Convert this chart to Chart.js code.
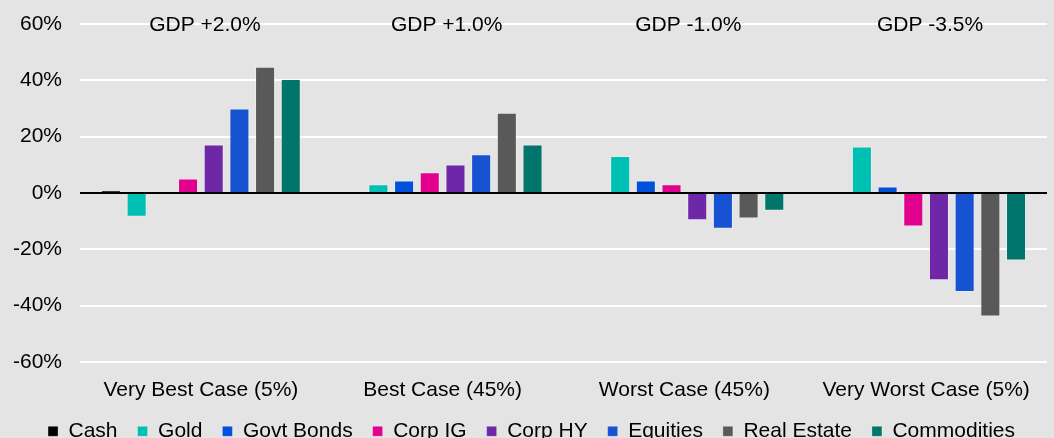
<!DOCTYPE html>
<html>
<head>
<meta charset="utf-8">
<script src="https://cdn.jsdelivr.net/npm/chart.js"></script>
<style>
  html, body { margin: 0; padding: 0; background: #e4e4e4; overflow: hidden; }
  #wrap { position: relative; width: 1054px; height: 470px; }
</style>
</head>
<body>
<div id="wrap"><canvas id="scenarioChart"></canvas></div>
<script>
const categories = ["Very Best Case (5%)", "Best Case (45%)", "Worst Case (45%)", "Very Worst Case (5%)"];
const gdpLabels = ["GDP +2.0%", "GDP +1.0%", "GDP -1.0%", "GDP -3.5%"];
const yTicks = [-60, -40, -20, 0, 20, 40, 60];

const cash = [0.8, 0.3, 0.3, 0.3];
const gold = [-8.5, 3.1, 13.1, 16.5];
const govtBonds = [-0.5, 4.4, 4.4, 2.3];
const corpIG = [5.1, 7.3, 3.1, -11.9];
const corpHY = [17.2, 10.1, -9.7, -31];
const equities = [30, 13.7, -12.7, -35.2];
const realEstate = [44.8, 28.5, -9.1, -43.9];
const commodities = [40.5, 17.2, -6.3, -24];

const FONT = "'Liberation Sans', Arial, sans-serif";
const FS = 21;

const series = [
  { label: "Cash", data: cash, color: "#000000" },
  { label: "Gold", data: gold, color: "#00c0b4" },
  { label: "Govt Bonds", data: govtBonds, color: "#0050dc" },
  { label: "Corp IG", data: corpIG, color: "#e2008f" },
  { label: "Corp HY", data: corpHY, color: "#6e27a6" },
  { label: "Equities", data: equities, color: "#1752d2" },
  { label: "Real Estate", data: realEstate, color: "#595959" },
  { label: "Commodities", data: commodities, color: "#00756c" },
];

// GDP labels over each group, on the top gridline
const gdpLabelPlugin = {
  id: "gdpLabels",
  afterDatasetsDraw(chart) {
    const { ctx, scales: { x, y } } = chart;
    ctx.save();
    ctx.font = FS + "px " + FONT;
    ctx.fillStyle = "#000";
    ctx.textAlign = "center";
    ctx.textBaseline = "middle";
    gdpLabels.forEach((t, i) => {
      ctx.fillText(t, x.getPixelForValue(i) + 4, y.getPixelForValue(60) + 1);
    });
    ctx.restore();
  },
};

// pull the legend up closer to the category labels
const legendShift = {
  id: "legendShift",
  afterLayout(chart) {
    const lg = chart.legend;
    const top = chart.chartArea.bottom + 39;
    const h = lg.bottom - lg.top;
    lg.top = top;
    lg.bottom = top + h;
    lg.left += 8;
    lg.right += 8;
  },
};

new Chart(document.getElementById("scenarioChart"), {
  type: "bar",
  data: {
    labels: categories,
    datasets: series.map((s) => ({
      label: s.label,
      data: s.data,
      backgroundColor: s.color,
      borderColor: "rgba(255,255,255,0.3)",
      borderWidth: 1,
      categoryPercentage: 0.85,
      barPercentage: 0.78,
    })),
  },
  options: {
    responsive: true,
    maintainAspectRatio: false,
    animation: false,
    layout: { padding: { top: 0, left: 0, right: 7, bottom: 0 } },
    plugins: {
      tooltip: { enabled: false },
      legend: {
        position: "bottom",
        labels: {
          boxWidth: 10,
          boxHeight: 10,
          padding: 20,
          color: "#000",
          font: { family: FONT, size: FS },
        },
      },
    },
    scales: {
      x: {
        grid: { display: false, drawTicks: false },
        border: { display: false },
        ticks: {
          padding: 16,
          color: "#000",
          maxRotation: 0,
          font: { family: FONT, size: FS },
        },
      },
      y: {
        min: -60,
        max: 60,
        afterBuildTicks: (scale) => { scale.ticks = yTicks.map((v) => ({ value: v })); },
        afterFit: (scale) => { scale.width = 80; scale.paddingTop = 24; },
        border: { display: false },
        grid: {
          drawTicks: false,
          lineWidth: 2,
          color: (c) => (c.tick && c.tick.value === 0 ? "#000" : "#ffffff"),
        },
        ticks: {
          padding: 18,
          color: "#000",
          font: { family: FONT, size: FS },
          callback: (v) => v + "%",
        },
      },
    },
  },
  plugins: [gdpLabelPlugin, legendShift],
});
</script>
</body>
</html>
